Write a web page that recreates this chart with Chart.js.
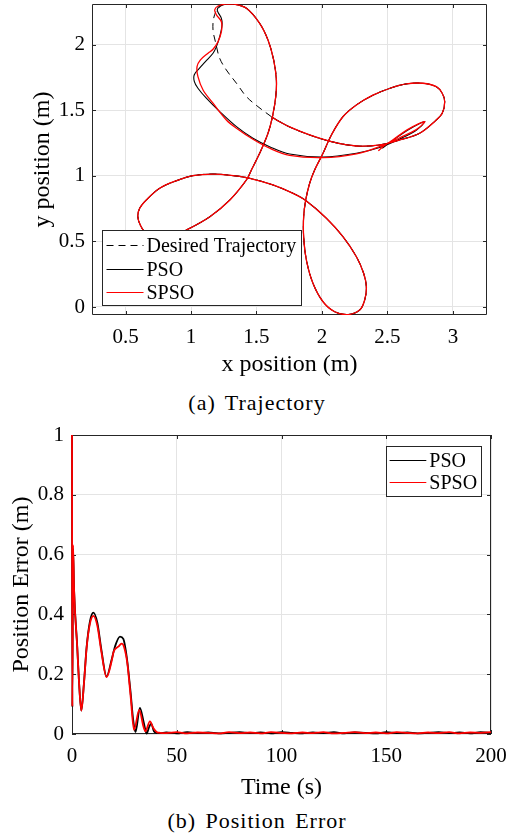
<!DOCTYPE html>
<html>
<head>
<meta charset="utf-8">
<script src="https://cdn.jsdelivr.net/npm/chart.js@4.4.1/dist/chart.umd.min.js"></script>
<style>
  html, body { margin: 0; padding: 0; background: #fff; }
  body { width: 514px; height: 839px; position: relative; overflow: hidden; }
  .box { position: absolute; left: 0; width: 514px; }
  .cap { position: absolute; left: 0; width: 514px; text-align: center; color: #000;
         font-family: 'Liberation Serif', 'Times New Roman', serif; font-size: 22px; line-height: 22px;
         letter-spacing: 1px; word-spacing: 3px; }
</style>
</head>
<body>
<div class="box" style="top:0;height:382px"><canvas id="chartTraj"></canvas></div>
<div class="cap" style="top:392px">(a) Trajectory</div>
<div class="box" style="top:412px;height:393px"><canvas id="chartErr"></canvas></div>
<div class="cap" style="top:810px">(b) Position Error</div>

<script>
// (a) trajectory, metres
// part of the reference only seen as dashes (crossing -> top of upper petal)
const refHeadX = [1.614, 1.511, 1.423, 1.347, 1.270, 1.219, 1.189, 1.168, 1.173, 1.198, 1.244];
const refHeadY = [1.450, 1.527, 1.603, 1.705, 1.806, 1.895, 2.010, 2.111, 2.200, 2.264, 2.302];

// loop shared by reference and both controllers once converged
const loopX = [1.320, 1.423, 1.524, 1.588, 1.631, 1.652, 1.647, 1.622, 1.588, 1.524, 1.461, 1.423, 1.297, 1.144, 0.965, 0.860, 0.750, 0.660, 0.615, 0.594,
               0.608, 0.659, 0.761, 0.891, 1.015, 1.168, 1.321, 1.448, 1.626, 1.779, 1.881, 2.034, 2.160, 2.263, 2.318, 2.339, 2.326, 2.288, 2.200, 2.097,
               2.008, 1.931, 1.881, 1.860, 1.860, 1.876, 1.906, 1.944, 2.008, 2.072, 2.160, 2.263, 2.389, 2.520, 2.644, 2.771, 2.873, 2.918, 2.937, 2.918,
               2.867, 2.746, 2.593, 2.440, 2.263, 2.072, 1.906, 1.753, 1.677, 1.614];
const loopY = [2.310, 2.277, 2.162, 2.034, 1.883, 1.730, 1.603, 1.450, 1.324, 1.171, 1.044, 0.968, 0.816, 0.688, 0.587, 0.545, 0.535, 0.560, 0.620, 0.688,
               0.752, 0.816, 0.905, 0.963, 1.001, 1.013, 1.001, 0.981, 0.930, 0.866, 0.808, 0.676, 0.536, 0.383, 0.257, 0.155, 0.053, -0.023, -0.058, -0.036,
               0.040, 0.181, 0.358, 0.536, 0.688, 0.816, 0.943, 1.044, 1.171, 1.311, 1.450, 1.540, 1.614, 1.667, 1.700, 1.705, 1.679, 1.629, 1.565, 1.476,
               1.420, 1.324, 1.273, 1.235, 1.227, 1.260, 1.311, 1.372, 1.412, 1.450];

// transient of each controller before it joins the loop
const psoHeadX = [2.460, 2.550, 2.650, 2.750, 2.785, 2.720, 2.593, 2.440, 2.263, 2.008, 1.753, 1.600, 1.473, 1.347, 1.219,
                  1.117, 1.053, 1.025, 1.025, 1.060, 1.110, 1.168, 1.194, 1.219, 1.237, 1.232, 1.206, 1.201, 1.219, 1.270];
const psoHeadY = [1.210, 1.275, 1.345, 1.400, 1.412, 1.347, 1.280, 1.215, 1.171, 1.143, 1.166, 1.222, 1.286, 1.374, 1.489,
                  1.591, 1.667, 1.720, 1.770, 1.815, 1.870, 1.934, 1.984, 2.060, 2.149, 2.200, 2.246, 2.269, 2.294, 2.309];
const spsoHeadX = [2.430, 2.470, 2.550, 2.650, 2.740, 2.785, 2.720, 2.593, 2.440, 2.263, 2.008, 1.753, 1.600, 1.473, 1.347,
                   1.270, 1.168, 1.092, 1.053, 1.046, 1.072, 1.130, 1.168, 1.206, 1.232, 1.232, 1.194, 1.181, 1.206, 1.270];
const spsoHeadY = [1.190, 1.225, 1.280, 1.350, 1.398, 1.412, 1.352, 1.290, 1.222, 1.167, 1.138, 1.155, 1.210, 1.278, 1.362,
                   1.425, 1.553, 1.654, 1.755, 1.832, 1.883, 1.934, 1.964, 2.022, 2.098, 2.174, 2.226, 2.264, 2.294, 2.309];

const trajXTicks = [0.5, 1, 1.5, 2, 2.5, 3];
const trajYTicks = [0, 0.5, 1, 1.5, 2];

// (b) position error, m
const psoTime = [0, 0.15, 0.5, 1.0, 2.5, 3.3, 4.45, 5.7, 7.0, 8.6, 10.2, 12.1, 14.0, 16.5, 18.9, 20.5, 22.9, 24.5, 26.1, 28.0,
                 29.2, 30.3, 32.4, 34.3, 35.6, 36.9, 37.8, 39.1, 40.4, 42];
const psoErr = [1.000, 0.090, 0.620, 0.480, 0.292, 0.181, 0.078, 0.170, 0.292, 0.378, 0.406, 0.372, 0.283, 0.192, 0.248, 0.292, 0.326, 0.318, 0.259, 0.137,
                0.048, 0.006, 0.087, 0.037, 0.001, 0.025, 0.035, 0.009, 0.004, 0.003];
const spsoTime = [0, 0.15, 0.5, 1.0, 2.5, 3.3, 4.45, 5.7, 7.0, 8.6, 10.2, 12.1, 14.0, 16.5, 18.9, 19.9, 22.1, 23.7, 24.8, 26.4,
                  28.0, 29.6, 32.1, 34.1, 35.0, 37.2, 38.8, 40.4, 42];
const spsoErr = [1.000, 0.092, 0.632, 0.480, 0.290, 0.180, 0.078, 0.168, 0.290, 0.370, 0.395, 0.362, 0.276, 0.190, 0.243, 0.276, 0.292, 0.302, 0.292, 0.237,
                 0.125, 0.014, 0.081, 0.025, 0.009, 0.042, 0.020, 0.007, 0.004];
const tailTime = [45, 50, 55, 60, 65, 70, 75, 80, 85, 90, 95, 100, 105, 110, 115, 120, 125, 130, 135, 140, 145, 150, 155, 160, 165, 170, 175, 180, 185, 190, 195, 200];
const psoTail = [0.005, 0.002, 0.006, 0.003, 0.005, 0.002, 0.004, 0.006, 0.003, 0.005, 0.002, 0.006, 0.004, 0.002, 0.005, 0.003,
                 0.006, 0.002, 0.005, 0.004, 0.002, 0.006, 0.003, 0.005, 0.002, 0.004, 0.006, 0.003, 0.005, 0.002, 0.006, 0.004];
const spsoTail = [0.003, 0.006, 0.002, 0.005, 0.004, 0.002, 0.006, 0.003, 0.005, 0.002, 0.006, 0.004, 0.002, 0.005, 0.003, 0.006,
                  0.002, 0.004, 0.006, 0.003, 0.005, 0.002, 0.006, 0.004, 0.002, 0.005, 0.003, 0.006, 0.002, 0.005, 0.004, 0.006];

const errXTicks = [0, 50, 100, 150, 200];
const errYTicks = [0, 0.2, 0.4, 0.6, 0.8, 1];

const AXIS = '#262626';
const GRID = '#e4e4e4';
const FONT = "'Liberation Serif', 'Times New Roman', serif";
Chart.defaults.font.family = FONT;
Chart.defaults.color = '#000';

const pts = (xs, ys) => xs.map((x, i) => ({ x: x, y: ys[i] }));

// MATLAB style: closed box and inward ticks under the data, legend inside the axes on top
const matlabBox = {
    id: 'matlabBox',
    beforeDatasetsDraw(chart, args, o) {
        const { ctx, chartArea: a, scales } = chart;
        ctx.save();
        ctx.strokeStyle = AXIS;
        ctx.lineWidth = 1;
        ctx.setLineDash([]);
        ctx.beginPath();
        ctx.rect(a.left + 0.5, a.top + 0.5, a.right - a.left - 1, a.bottom - a.top - 1);
        const L = o.tickLen;
        scales.x.ticks.forEach(t => {
            const p = Math.round(scales.x.getPixelForValue(t.value)) + 0.5;
            ctx.moveTo(p, a.bottom); ctx.lineTo(p, a.bottom - L);
            ctx.moveTo(p, a.top); ctx.lineTo(p, a.top + L);
        });
        scales.y.ticks.forEach(t => {
            const p = Math.round(scales.y.getPixelForValue(t.value)) + 0.5;
            ctx.moveTo(a.left, p); ctx.lineTo(a.left + L, p);
            ctx.moveTo(a.right, p); ctx.lineTo(a.right - L, p);
        });
        ctx.stroke();
        ctx.restore();
    },
    afterDatasetsDraw(chart, args, o) {
        const { ctx, chartArea: a } = chart;
        const lg = o.legend;
        const bx = Math.round(a.left + lg.x), by = Math.round(a.top + lg.y);
        ctx.save();
        ctx.fillStyle = '#fff';
        ctx.fillRect(bx, by, lg.w, lg.h);
        ctx.strokeStyle = AXIS;
        ctx.lineWidth = 1;
        ctx.strokeRect(bx + 0.5, by + 0.5, lg.w - 1, lg.h - 1);
        ctx.font = '20px ' + FONT;
        ctx.textAlign = 'left';
        ctx.textBaseline = 'alphabetic';
        chart.data.datasets.forEach((ds, i) => {
            const ry = Math.round(by + lg.rowTop + i * lg.rowH) + 0.5;
            ctx.beginPath();
            ctx.strokeStyle = ds.borderColor;
            ctx.lineWidth = lg.lineWidth;
            ctx.setLineDash(ds.borderDash || []);
            ctx.moveTo(bx + lg.lineX0, ry);
            ctx.lineTo(bx + lg.lineX1, ry);
            ctx.stroke();
            ctx.setLineDash([]);
            ctx.fillStyle = '#000';
            ctx.fillText(ds.label, bx + lg.textX, ry + 6.5);
        });
        ctx.restore();
    }
};

function axis(min, max, tickVals, size, isX, title, titlePad, tickPad) {
    return {
        type: 'linear',
        min: min,
        max: max,
        bounds: 'data',
        afterBuildTicks: s => { s.ticks = tickVals.map(v => ({ value: v })); },
        afterFit: s => {
            if (isX) s.height = size; else s.width = size;
            s.paddingTop = 0; s.paddingBottom = 0; s.paddingLeft = 0; s.paddingRight = 0;
        },
        grid: { color: GRID, lineWidth: 1, drawTicks: false },
        border: { display: false },
        ticks: { color: '#000', font: { family: FONT, size: 21 }, padding: tickPad, maxRotation: 0, autoSkip: false,
                 callback: v => String(v) },
        title: { display: true, text: title, color: '#000', font: { family: FONT, size: 24 }, padding: titlePad }
    };
}

// (a) Trajectory
new Chart(document.getElementById('chartTraj'), {
    type: 'scatter',
    data: {
        datasets: [
            {
                label: 'Desired Trajectory',
                data: pts(refHeadX.concat(loopX), refHeadY.concat(loopY)),
                borderColor: '#000',
                borderDash: [7, 5],
                borderWidth: 1,
                order: 3
            },
            {
                label: 'PSO',
                data: pts(psoHeadX.concat(loopX), psoHeadY.concat(loopY)),
                borderColor: '#000',
                borderWidth: 1.1,
                order: 2
            },
            {
                label: 'SPSO',
                data: pts(spsoHeadX.concat(loopX), spsoHeadY.concat(loopY)),
                borderColor: '#ff0000',
                borderWidth: 1.3,
                order: 1
            }
        ]
    },
    options: {
        responsive: true,
        maintainAspectRatio: false,
        animation: false,
        devicePixelRatio: 1,
        events: [],
        showLine: true,
        elements: { point: { radius: 0 }, line: { tension: 0.35, fill: false } },
        layout: { padding: { top: 4, right: 27, left: 0, bottom: 0 } },
        scales: {
            x: axis(0.244, 3.26, trajXTicks, 67, true, 'x position (m)', { top: 0, bottom: 3 }, 10),
            y: axis(-0.061, 2.309, trajYTicks, 92, false, 'y position (m)', { top: 28, bottom: 0 }, 7)
        },
        plugins: {
            legend: { display: false },
            tooltip: { enabled: false },
            matlabBox: {
                tickLen: 4,
                legend: { x: 9.5, y: 226, w: 200, h: 76, rowTop: 15, rowH: 23.7, lineX0: 4.5, lineX1: 41.5, textX: 44.5, lineWidth: 1 }
            }
        }
    },
    plugins: [matlabBox]
});

// (b) Position Error
new Chart(document.getElementById('chartErr'), {
    type: 'scatter',
    data: {
        datasets: [
            {
                label: 'PSO',
                data: pts(psoTime.concat(tailTime), psoErr.concat(psoTail)),
                borderColor: '#000',
                borderWidth: 1.8,
                clip: 3,
                order: 2
            },
            {
                label: 'SPSO',
                data: pts(spsoTime.concat(tailTime), spsoErr.concat(spsoTail)),
                borderColor: '#ff0000',
                borderWidth: 1.8,
                clip: 3,
                order: 1
            }
        ]
    },
    options: {
        responsive: true,
        maintainAspectRatio: false,
        animation: false,
        devicePixelRatio: 1,
        events: [],
        showLine: true,
        elements: { point: { radius: 0 }, line: { cubicInterpolationMode: 'monotone', fill: false } },
        layout: { padding: { top: 23, right: 23, left: 0, bottom: 0 } },
        scales: {
            x: axis(0, 200, errXTicks, 71, true, 'Time (s)', { top: 0, bottom: 2.5 }, 10),
            y: axis(0, 1, errYTicks, 72, false, 'Position Error (m)', { top: 7.5, bottom: 0 }, 8)
        },
        plugins: {
            legend: { display: false },
            tooltip: { enabled: false },
            matlabBox: {
                tickLen: 4,
                legend: { x: 313.5, y: 10.5, w: 96, h: 51, rowTop: 14, rowH: 22.4, lineX0: 3.6, lineX1: 40.3, textX: 43.3, lineWidth: 1.2 }
            }
        }
    },
    plugins: [matlabBox]
});
</script>
</body>
</html>
